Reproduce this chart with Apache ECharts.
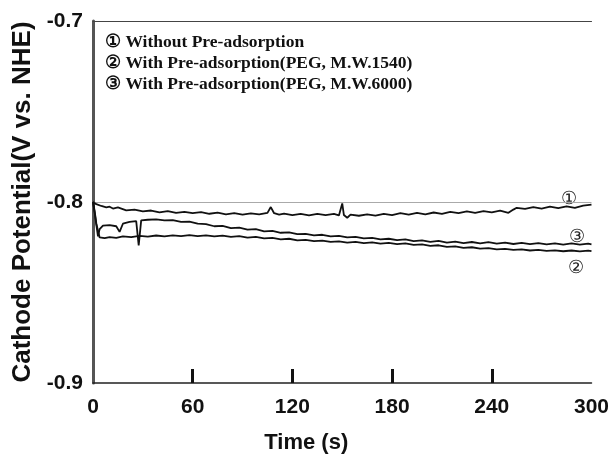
<!DOCTYPE html>
<html>
<head>
<meta charset="utf-8">
<script src="https://cdn.jsdelivr.net/npm/echarts@6/dist/echarts.min.js"></script>
<style>
  html, body { margin: 0; padding: 0; background: #fff; }
  #chart { width: 612px; height: 459px; }
</style>
</head>
<body>
<div id="chart"></div>
<script>
// [time (s), potential (V vs. NHE)]
const withoutPreAdsorption = [
  [0, -0.8000], [2, -0.8012], [5, -0.8022], [8, -0.8030], [10, -0.8026], [12, -0.8036], [15, -0.8030],
  [20, -0.8046], [25, -0.8042], [30, -0.8052], [35, -0.8047], [40, -0.8057], [45, -0.8050], [50, -0.8060],
  [55, -0.8054], [60, -0.8062], [65, -0.8056], [70, -0.8065], [75, -0.8059], [80, -0.8068], [85, -0.8062],
  [90, -0.8070], [95, -0.8063], [100, -0.8068], [105, -0.8060], [107, -0.8028], [109, -0.8062], [112, -0.8070],
  [115, -0.8064], [120, -0.8072], [125, -0.8066], [130, -0.8074], [135, -0.8065], [140, -0.8072], [145, -0.8066],
  [148, -0.8074], [150, -0.8008], [151, -0.8072], [153, -0.8087], [155, -0.8070], [160, -0.8076], [165, -0.8068],
  [170, -0.8075], [175, -0.8065], [180, -0.8072], [185, -0.8062], [190, -0.8070], [195, -0.8060], [200, -0.8068],
  [205, -0.8058], [210, -0.8065], [215, -0.8055], [220, -0.8062], [225, -0.8052], [230, -0.8060], [235, -0.8050],
  [240, -0.8057], [245, -0.8048], [250, -0.8060], [253, -0.8042], [255, -0.8032], [260, -0.8038], [265, -0.8028],
  [270, -0.8036], [275, -0.8026], [280, -0.8034], [285, -0.8024], [290, -0.8032], [295, -0.8020], [300, -0.8014]
];

const peg1540 = [
  [0, -0.8000], [1, -0.8050], [2, -0.8120], [4, -0.8196], [7, -0.8200], [10, -0.8194], [14, -0.8198],
  [18, -0.8190], [23, -0.8194], [28, -0.8187], [33, -0.8191], [38, -0.8185], [43, -0.8190], [48, -0.8184],
  [53, -0.8189], [58, -0.8183], [63, -0.8189], [68, -0.8184], [73, -0.8190], [78, -0.8186], [83, -0.8193],
  [88, -0.8189], [93, -0.8197], [98, -0.8193], [103, -0.8201], [108, -0.8198], [113, -0.8206], [118, -0.8203],
  [123, -0.8212], [128, -0.8209], [133, -0.8216], [138, -0.8213], [143, -0.8220], [148, -0.8217], [153, -0.8224],
  [158, -0.8220], [163, -0.8227], [168, -0.8223], [173, -0.8230], [178, -0.8226], [183, -0.8233], [188, -0.8229],
  [193, -0.8237], [198, -0.8234], [203, -0.8242], [208, -0.8239], [213, -0.8248], [218, -0.8245], [223, -0.8253],
  [228, -0.8250], [233, -0.8258], [238, -0.8255], [243, -0.8262], [248, -0.8259], [253, -0.8265], [258, -0.8262],
  [263, -0.8268], [268, -0.8265], [273, -0.8270], [278, -0.8267], [283, -0.8272], [288, -0.8268], [293, -0.8273],
  [298, -0.8269], [300, -0.8272]
];

const peg6000 = [
  [0, -0.8000], [1, -0.8060], [3, -0.8190], [4, -0.8150], [6, -0.8130], [10, -0.8128], [14, -0.8134],
  [16, -0.8165], [18, -0.8120], [22, -0.8110], [26, -0.8106], [27.5, -0.8240], [29, -0.8102], [33, -0.8098],
  [38, -0.8096], [43, -0.8102], [48, -0.8100], [53, -0.8110], [58, -0.8108], [63, -0.8120], [68, -0.8122],
  [73, -0.8134], [78, -0.8132], [83, -0.8144], [88, -0.8142], [93, -0.8153], [98, -0.8150], [103, -0.8162],
  [108, -0.8160], [113, -0.8170], [118, -0.8168], [123, -0.8178], [128, -0.8176], [133, -0.8184], [138, -0.8181],
  [143, -0.8190], [148, -0.8187], [153, -0.8196], [158, -0.8193], [163, -0.8201], [168, -0.8198], [173, -0.8206],
  [178, -0.8203], [183, -0.8211], [188, -0.8207], [193, -0.8216], [198, -0.8212], [203, -0.8220], [208, -0.8215],
  [213, -0.8224], [218, -0.8219], [223, -0.8227], [228, -0.8221], [233, -0.8229], [238, -0.8222], [243, -0.8230],
  [248, -0.8224], [253, -0.8232], [258, -0.8226], [263, -0.8233], [268, -0.8227], [273, -0.8234], [278, -0.8228],
  [283, -0.8235], [288, -0.8229], [293, -0.8236], [298, -0.8230], [300, -0.8234]
];

const xTickMarks = [60, 120, 180, 240];

const legendLines = [
  '\u2460 Without Pre-adsorption',
  '\u2461 With Pre-adsorption(PEG, M.W.1540)',
  '\u2462 With Pre-adsorption(PEG, M.W.6000)'
];

const chart = echarts.init(document.getElementById('chart'));

const lineColor = '#111';
const axisColor = '#222';
const sans = "'Liberation Sans', Arial, sans-serif";

function curve(name, data) {
  return {
    name: name,
    type: 'line',
    data: data,
    showSymbol: false,
    smooth: false,
    silent: true,
    lineStyle: { color: lineColor, width: 1.8 },
    z: 3
  };
}

const option = {
  animation: false,
  backgroundColor: '#fff',
  grid: { left: 93, right: 10, top: 21, bottom: 72 },
  xAxis: [
    {
      type: 'value',
      min: 0,
      max: 300,
      interval: 60,
      name: 'Time (s)',
      nameLocation: 'middle',
      nameGap: 49,
      // the title sits a little left of the plot centre in the original
      nameTextStyle: { fontFamily: sans, fontWeight: 'bold', fontSize: 22, color: '#111', padding: [0, 72, 0, 0] },
      axisLine: { show: true, lineStyle: { color: axisColor, width: 1.5 } },
      axisTick: { show: true, inside: true, length: 14, customValues: xTickMarks, lineStyle: { color: '#111', width: 3 } },
      axisLabel: { fontFamily: sans, fontWeight: 'bold', fontSize: 21, color: '#111', margin: 14 },
      splitLine: { show: false }
    },
    {
      type: 'value',
      position: 'top',
      min: 0,
      max: 300,
      axisLine: { show: true, lineStyle: { color: '#444', width: 1.2 } },
      axisTick: { show: false },
      axisLabel: { show: false },
      splitLine: { show: false }
    }
  ],
  yAxis: [
    {
      type: 'value',
      min: -0.9,
      max: -0.7,
      interval: 0.1,
      name: 'Cathode Potential(V vs. NHE)',
      nameLocation: 'middle',
      nameGap: 57,
      nameTextStyle: { fontFamily: sans, fontWeight: 'bold', fontSize: 26, color: '#111' },
      axisLine: { show: true, lineStyle: { color: '#333', width: 1.3 } },
      axisTick: { show: false },
      axisLabel: {
        fontFamily: sans,
        fontWeight: 'bold',
        fontSize: 21,
        color: '#111',
        margin: 10,
        formatter: v => v.toFixed(1)
      },
      splitLine: { show: false }
    },
    {
      type: 'value',
      position: 'right',
      min: -0.9,
      max: -0.7,
      axisLine: { show: true, lineStyle: { color: '#555', width: 3 } },
      axisTick: { show: false },
      axisLabel: { show: false },
      splitLine: { show: false }
    }
  ],
  graphic: [
    {
      type: 'group',
      left: 105,
      top: 33,
      children: legendLines.map((t, i) => ({
        type: 'text',
        x: 0,
        y: i * 21,
        style: {
          text: t,
          font: "bold 17.5px 'Liberation Serif', 'Times New Roman', serif",
          fill: '#111'
        }
      }))
    },
    { type: 'text', left: 561, top: 190, style: { text: '\u2460', font: "18px 'Liberation Serif', serif", fill: '#222' } },
    { type: 'text', left: 569, top: 228, style: { text: '\u2462', font: "18px 'Liberation Serif', serif", fill: '#222' } },
    { type: 'text', left: 568, top: 259, style: { text: '\u2461', font: "18px 'Liberation Serif', serif", fill: '#222' } }
  ],
  series: [
    Object.assign(curve('Without Pre-adsorption', withoutPreAdsorption), {
      markLine: {
        silent: true,
        symbol: 'none',
        label: { show: false },
        lineStyle: { color: '#aaa', width: 1.2, type: 'solid' },
        data: [{ yAxis: -0.8 }],
        z: 1
      }
    }),
    curve('With Pre-adsorption(PEG, M.W.1540)', peg1540),
    curve('With Pre-adsorption(PEG, M.W.6000)', peg6000)
  ]
};

chart.setOption(option);
</script>
</body>
</html>
